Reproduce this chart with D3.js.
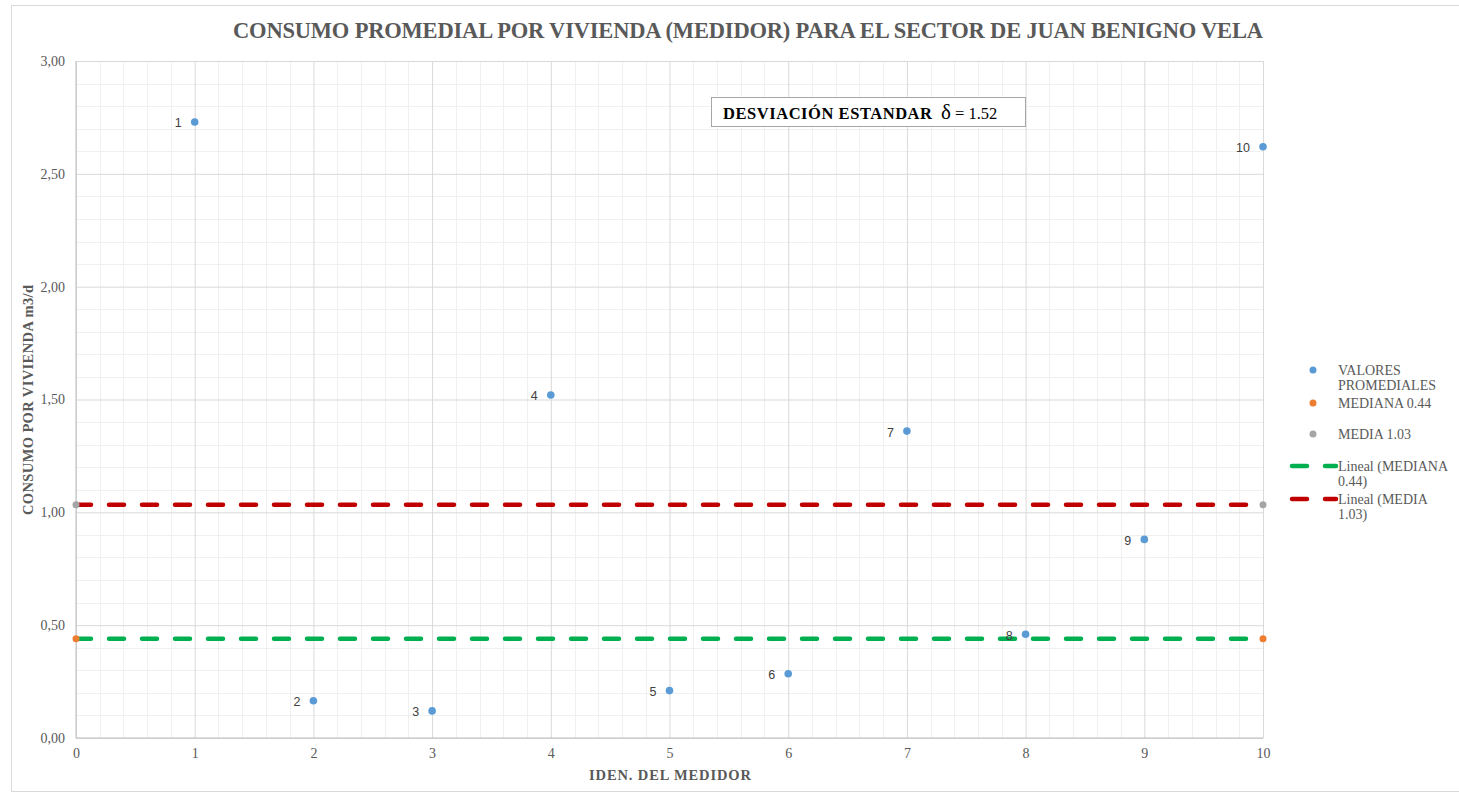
<!DOCTYPE html>
<html>
<head>
<meta charset="utf-8">
<script src="https://cdn.jsdelivr.net/npm/d3@7"></script>
<style>
  html, body { margin: 0; padding: 0; background: #fff; }
  svg { display: block; }
</style>
</head>
<body>
<svg id="chart" width="1459" height="795"></svg>
<script>
// Medidores y consumo promedio diario (m3/d)
const meterIds = [1, 2, 3, 4, 5, 6, 7, 8, 9, 10];
const consumo = [2.73, 0.165, 0.12, 1.52, 0.21, 0.285, 1.36, 0.46, 0.88, 2.62];
const medianaValue = 0.44;
const mediaValue = 1.034;
const medianaX = [0, 10];
const mediaX = [0, 10];
const yTicks = [0, 0.5, 1, 1.5, 2, 2.5, 3];
const xTicks = [0, 1, 2, 3, 4, 5, 6, 7, 8, 9, 10];
const legendLabels = [
  ["VALORES", "PROMEDIALES"],
  ["MEDIANA 0.44"],
  ["MEDIA 1.03"],
  ["Lineal (MEDIANA", "0.44)"],
  ["Lineal (MEDIA", "1.03)"]
];

const colors = { valores: "#5b9bd5", mediana: "#ed7d31", media: "#a5a5a5", lineMediana: "#00b050", lineMedia: "#c00000" };
const serif = "'Liberation Serif', 'Times New Roman', serif";
const sans = "'Liberation Sans', Arial, sans-serif";

const svg = d3.select("#chart");

// chart frame
svg.append("rect").attr("x", 11.5).attr("y", 5.5).attr("width", 1460).attr("height", 786)
  .attr("fill", "#fff").attr("stroke", "#d9d9d9").attr("stroke-width", 1);

const x = d3.scaleLinear().domain([0, 10]).range([76, 1263]);
const y = d3.scaleLinear().domain([0, 3]).range([738, 61]);

// minor grid
const g = svg.append("g");
d3.range(0, 10.001, 0.2).forEach(v => {
  if (Math.abs(v - Math.round(v)) > 1e-6)
    g.append("line").attr("x1", Math.round(x(v)) + 0.5).attr("x2", Math.round(x(v)) + 0.5)
      .attr("y1", y(3)).attr("y2", y(0)).attr("stroke", "#f0f0f0");
});
d3.range(0, 3.001, 0.1).forEach(v => {
  if (Math.abs(v * 2 - Math.round(v * 2)) > 1e-6)
    g.append("line").attr("y1", Math.round(y(v)) + 0.5).attr("y2", Math.round(y(v)) + 0.5)
      .attr("x1", x(0)).attr("x2", x(10)).attr("stroke", "#f0f0f0");
});

// major grid via axes
const yAxis = d3.axisLeft(y).tickValues(yTicks).tickSize(-(x(10) - x(0))).tickPadding(11)
  .tickFormat(d => d3.format(".2f")(d).replace(".", ","));
const yg = svg.append("g").attr("transform", `translate(${x(0)},0)`).call(yAxis);
yg.select(".domain").remove();
yg.selectAll(".tick line").attr("stroke", "#d9d9d9");
yg.selectAll(".tick text").attr("font-family", serif).attr("font-size", 14).attr("fill", "#595959");

const xAxis = d3.axisBottom(x).tickValues(xTicks).tickSize(-(y(0) - y(3))).tickPadding(10)
  .tickFormat(d3.format("d"));
const xg = svg.append("g").attr("transform", `translate(0,${y(0)})`).call(xAxis);
xg.select(".domain").remove();
xg.selectAll(".tick line").attr("stroke", "#d9d9d9");
xg.selectAll(".tick text").attr("font-family", serif).attr("font-size", 14).attr("fill", "#595959");

// axis lines
svg.append("line").attr("x1", x(0)).attr("x2", x(0)).attr("y1", y(3)).attr("y2", y(0)).attr("stroke", "#bfbfbf");
svg.append("line").attr("x1", x(0)).attr("x2", x(10)).attr("y1", y(0)).attr("y2", y(0)).attr("stroke", "#bfbfbf");

// reference lines
const line = d3.line().x(d => x(d[0])).y(d => y(d[1]));
const dashed = (data, color) => svg.append("path").datum(data).attr("d", line)
  .attr("fill", "none").attr("stroke", color).attr("stroke-width", 4.5)
  .attr("stroke-linecap", "round").attr("stroke-dasharray", "15 18");
dashed(medianaX.map(v => [v, medianaValue]), colors.lineMediana);
dashed(mediaX.map(v => [v, mediaValue]), colors.lineMedia);

// endpoint markers
mediaX.forEach(v => svg.append("circle").attr("cx", x(v)).attr("cy", y(mediaValue)).attr("r", 3.5).attr("fill", colors.media));
medianaX.forEach(v => svg.append("circle").attr("cx", x(v)).attr("cy", y(medianaValue)).attr("r", 3.5).attr("fill", colors.mediana));

// data points and labels
const pts = svg.append("g");
meterIds.forEach((id, i) => {
  pts.append("circle").attr("cx", x(id)).attr("cy", y(consumo[i])).attr("r", 3.8).attr("fill", colors.valores);
  pts.append("text").attr("x", x(id) - 13).attr("y", y(consumo[i]) + 5.5)
    .attr("text-anchor", "end").attr("font-family", sans).attr("font-size", 12.5)
    .attr("fill", "#404040").text(id);
});

// title
svg.append("text").attr("x", 748).attr("y", 38).attr("text-anchor", "middle")
  .attr("font-family", serif).attr("font-weight", "bold").attr("font-size", 22.5).attr("fill", "#595959")
  .attr("textLength", 1030).attr("lengthAdjust", "spacing")
  .text("CONSUMO PROMEDIAL POR VIVIENDA (MEDIDOR) PARA EL SECTOR DE JUAN BENIGNO VELA");

// axis titles
svg.append("text").attr("x", 670).attr("y", 780).attr("text-anchor", "middle")
  .attr("font-family", serif).attr("font-weight", "bold").attr("font-size", 14.5).attr("fill", "#595959")
  .attr("textLength", 162).attr("lengthAdjust", "spacing")
  .text("IDEN. DEL MEDIDOR");
svg.append("text").attr("transform", "translate(33,400) rotate(-90)").attr("text-anchor", "middle")
  .attr("font-family", serif).attr("font-weight", "bold").attr("font-size", 14.5).attr("fill", "#595959")
  .attr("textLength", 230).attr("lengthAdjust", "spacing")
  .text("CONSUMO POR VIVIENDA  m3/d");

// standard deviation box
svg.append("rect").attr("x", 711.5).attr("y", 97.5).attr("width", 314).attr("height", 29)
  .attr("fill", "#fff").attr("stroke", "#a6a6a6");
const st = svg.append("text").attr("y", 119).attr("font-family", serif).attr("fill", "#000");
st.append("tspan").attr("x", 723).attr("font-weight", "bold").attr("font-size", 16.5)
  .attr("textLength", 209).attr("lengthAdjust", "spacing").text("DESVIACIÓN  ESTANDAR");
st.append("tspan").attr("x", 941).attr("font-size", 21).text("δ");
st.append("tspan").attr("font-size", 16.5).text(" = 1.52");

// legend
const lg = svg.append("g").attr("font-family", serif).attr("font-size", 14).attr("fill", "#595959");
const items = [
  { type: "dot", color: colors.valores, y: 370 },
  { type: "dot", color: colors.mediana, y: 403 },
  { type: "dot", color: colors.media, y: 434 },
  { type: "line", color: colors.lineMediana, y: 466 },
  { type: "line", color: colors.lineMedia, y: 499 }
];
items.forEach((it, i) => {
  if (it.type === "dot") {
    lg.append("circle").attr("cx", 1313).attr("cy", it.y).attr("r", 3.5).attr("fill", it.color);
  } else {
    lg.append("path").attr("d", `M1292,${it.y}L1336,${it.y}`).attr("stroke", it.color)
      .attr("stroke-width", 4.5).attr("stroke-linecap", "round").attr("stroke-dasharray", "15 18");
  }
  legendLabels[i].forEach((t, j) => {
    lg.append("text").attr("x", 1338).attr("y", it.y + 4.5 + j * 15).text(t);
  });
});
</script>
</body>
</html>
